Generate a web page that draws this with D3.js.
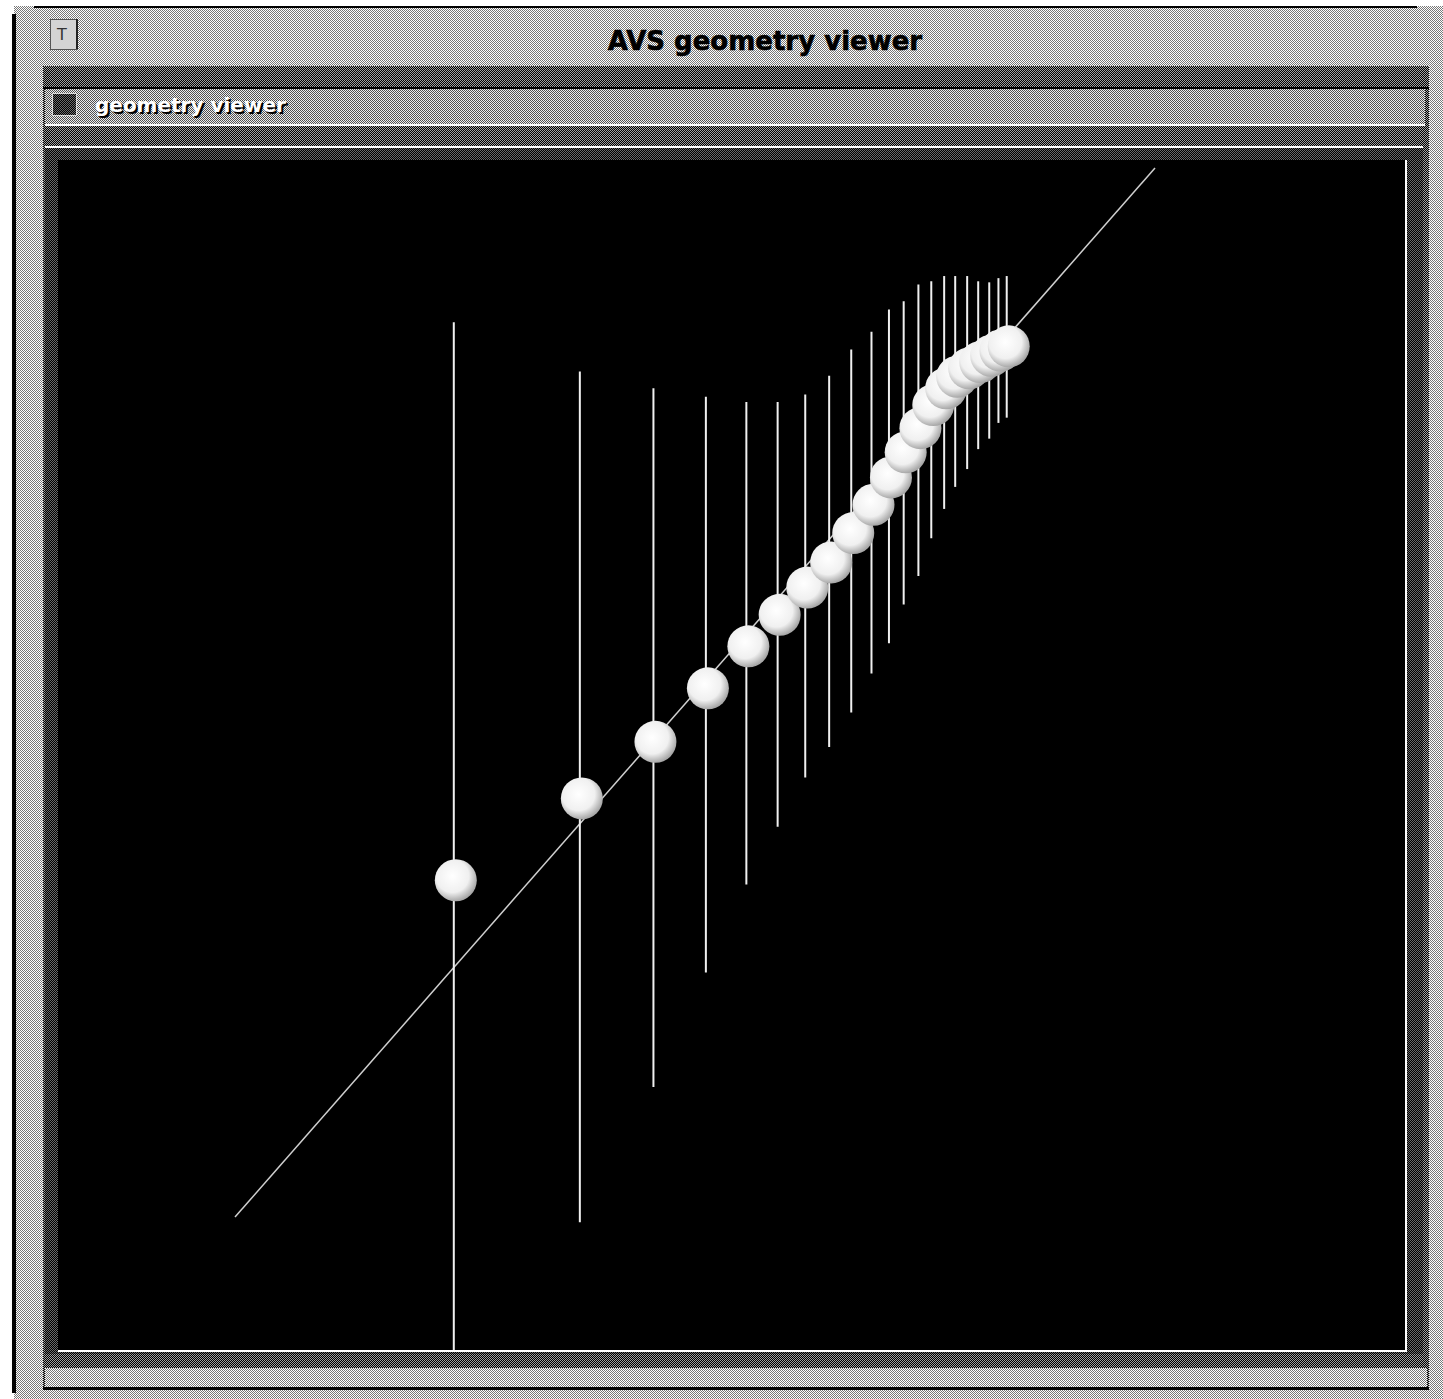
<!DOCTYPE html>
<html lang="en">
    <head>
        <meta charset="utf-8">
        <title>AVS geometry viewer</title>
        <script src="https://d3js.org/d3.v7.min.js"></script>
        <style type="text/css">
            body {
              margin: 0;
              background: white;
            }
            .title {
              font-family: "DejaVu Sans", sans-serif;
              font-weight: bold;
            }
        </style>
    </head>
    <body>
        <div id="viewer"></div>

        <script type="text/javascript">

        //CONSTANTS/GLOBAL VAR
            const w = 1443;
            const h = 1399;

        //DATA (model units, reference line runs 0..10 on both axes)
            const sphereX = [2.40, 3.77, 4.57, 5.14, 5.58, 5.92, 6.22, 6.48, 6.72, 6.94,
                             7.13, 7.29, 7.45, 7.59, 7.73, 7.85, 7.98, 8.10, 8.22, 8.32, 8.41];
            const sphereY = [3.21, 3.99, 4.53, 5.04, 5.44, 5.74, 6.00, 6.24, 6.52, 6.79,
                             7.05, 7.29, 7.52, 7.74, 7.90, 8.01, 8.09, 8.15, 8.21, 8.26, 8.30];
            const barLow  = [-1.30, -0.05, 1.24, 2.33, 3.17, 3.72, 4.19, 4.48, 4.81, 5.18,
                             5.47, 5.84, 6.11, 6.47, 6.75, 6.96, 7.13, 7.32, 7.42, 7.57, 7.62];
            const barHigh = [8.53, 8.06, 7.90, 7.82, 7.77, 7.77, 7.84, 8.02, 8.27, 8.44,
                             8.65, 8.73, 8.89, 8.92, 8.97, 8.97, 8.97, 8.92, 8.91, 8.95, 8.97];
            const refLine = [[0, 0], [10, 10]];

            const points = sphereX.map((x, i) => ({x: x, y: sphereY[i], lo: barLow[i], hi: barHigh[i]}));

        //SVG
            const svg = d3.select("#viewer")
                    .append("svg")
                    .attr("width", w)
                    .attr("height", h)
                    .attr("shape-rendering", "crispEdges");

            const defs = svg.append("defs");

            //DITHER PATTERNS, the old X screen look
            function dither(id, a, b) {
                const p = defs.append("pattern")
                    .attr("id", id)
                    .attr("patternUnits", "userSpaceOnUse")
                    .attr("width", 2)
                    .attr("height", 2);
                p.append("rect").attr("width", 2).attr("height", 2).attr("fill", a);
                p.append("rect").attr("width", 1).attr("height", 1).attr("fill", b);
                p.append("rect").attr("x", 1).attr("y", 1).attr("width", 1).attr("height", 1).attr("fill", b);
            }
            dither("light", "#ffffff", "#787878");
            dither("mid", "#ececec", "#505050");
            dither("dark", "#000000", "#a0a0a0");
            dither("darker", "#000000", "#6a6a6a");

            const grad = defs.append("radialGradient")
                .attr("id", "ball")
                .attr("cx", "42%").attr("cy", "40%").attr("r", "60%");
            grad.append("stop").attr("offset", "0%").attr("stop-color", "#ffffff");
            grad.append("stop").attr("offset", "65%").attr("stop-color", "#f0f0f0");
            grad.append("stop").attr("offset", "100%").attr("stop-color", "#a8a8a8");

        //WINDOW FRAME
            svg.append("rect")
                .attr("x", 14).attr("y", 6)
                .attr("width", w - 14).attr("height", h - 6)
                .attr("fill", "url(#light)");
            svg.append("rect").attr("x", 34).attr("y", 6).attr("width", w - 60).attr("height", 2).attr("fill", "#000");
            svg.append("rect").attr("x", 12).attr("y", 14).attr("width", 4).attr("height", h - 20).attr("fill", "#000");

            //close button
            svg.append("rect")
                .attr("x", 50).attr("y", 19).attr("width", 27).attr("height", 30)
                .attr("fill", "#d4d4d4").attr("stroke", "#555").attr("stroke-width", 1);
            svg.append("rect").attr("x", 76).attr("y", 19).attr("width", 2).attr("height", 30).attr("fill", "#222");
            svg.append("text")
                .attr("x", 62).attr("y", 40)
                .attr("text-anchor", "middle")
                .attr("font-family", "DejaVu Sans, sans-serif")
                .attr("font-size", 16)
                .attr("fill", "#333")
                .text("T");

            svg.append("text")
                .attr("class", "title")
                .attr("x", 765).attr("y", 50)
                .attr("text-anchor", "middle")
                .attr("font-size", 26)
                .attr("fill", "#000")
                .attr("stroke", "#000")
                .attr("stroke-width", 0.6)
                .text("AVS geometry viewer");

            //inner panel
            svg.append("rect")
                .attr("x", 43).attr("y", 66)
                .attr("width", 1386).attr("height", 1322)
                .attr("fill", "url(#dark)");
            svg.append("rect").attr("x", 43).attr("y", 1387).attr("width", 1386).attr("height", 3).attr("fill", "#000");
            svg.append("rect").attr("x", 45).attr("y", 1368).attr("width", 1382).attr("height", 19).attr("fill", "url(#light)");
            svg.append("rect").attr("x", 43).attr("y", 87).attr("width", 1386).attr("height", 2).attr("fill", "#000");

            //"geometry viewer" strip
            svg.append("rect")
                .attr("x", 45).attr("y", 89)
                .attr("width", 1380).attr("height", 35)
                .attr("fill", "url(#mid)");
            svg.append("rect").attr("x", 45).attr("y", 124).attr("width", 1380).attr("height", 2).attr("fill", "#fff");
            svg.append("rect")
                .attr("x", 52).attr("y", 93).attr("width", 24).attr("height", 22)
                .attr("fill", "url(#darker)").attr("stroke", "#ddd");
            svg.append("text")
                .attr("class", "title")
                .attr("x", 97).attr("y", 114)
                .attr("font-size", 20)
                .attr("fill", "#000")
                .text("geometry viewer");
            svg.append("text")
                .attr("class", "title")
                .attr("x", 95).attr("y", 112)
                .attr("font-size", 20)
                .attr("fill", "#fff")
                .text("geometry viewer");

            //canvas bezel
            svg.append("rect")
                .attr("x", 45).attr("y", 146)
                .attr("width", 1378).attr("height", 1208)
                .attr("fill", "url(#darker)");
            svg.append("rect").attr("x", 45).attr("y", 146).attr("width", 1378).attr("height", 2).attr("fill", "#fff");

        //CANVAS
            const cx0 = 58, cy0 = 160, cw = 1347, ch = 1190;
            svg.append("rect")
                .attr("x", cx0).attr("y", cy0)
                .attr("width", cw).attr("height", ch)
                .attr("fill", "#000");
            svg.append("rect").attr("x", cx0).attr("y", cy0 + ch).attr("width", cw + 2).attr("height", 2).attr("fill", "#fff");
            svg.append("rect").attr("x", cx0 + cw).attr("y", cy0).attr("width", 2).attr("height", ch).attr("fill", "#fff");

            defs.append("clipPath").attr("id", "clip")
                .append("rect")
                .attr("x", cx0).attr("y", cy0)
                .attr("width", cw).attr("height", ch);

            const plot = svg.append("g")
                .attr("clip-path", "url(#clip)")
                .attr("shape-rendering", "auto");

        //SCALES
            const xScale = d3.scaleLinear()
                            .domain([0, 10])
                            .range([235, 1155]);

            const yScale = d3.scaleLinear()
                            .domain([0, 10])
                            .range([1217, 168]);

        //REFERENCE LINE
            const line = d3.line()
                .x(d => xScale(d[0]))
                .y(d => yScale(d[1]));

            plot.append("path")
                .datum(refLine)
                .attr("d", line)
                .attr("fill", "none")
                .attr("stroke", "#d0d0d0")
                .attr("stroke-width", 1.5);

        //ERROR BARS
            plot.selectAll("line.bar")
                .data(points)
                .enter()
                .append("line")
                .attr("class", "bar")
                .attr("x1", d => xScale(d.x) - 2)
                .attr("x2", d => xScale(d.x) - 2)
                .attr("y1", d => yScale(d.hi))
                .attr("y2", d => yScale(d.lo))
                .attr("stroke", "#f0f0f0")
                .attr("stroke-width", 2);

        //SPHERES
            plot.selectAll("circle")
                .data(points)
                .enter()
                .append("circle")
                .attr("cx", d => xScale(d.x))
                .attr("cy", d => yScale(d.y))
                .attr("r", 21)
                .attr("fill", "url(#ball)");

        </script>
    </body>
</html>
